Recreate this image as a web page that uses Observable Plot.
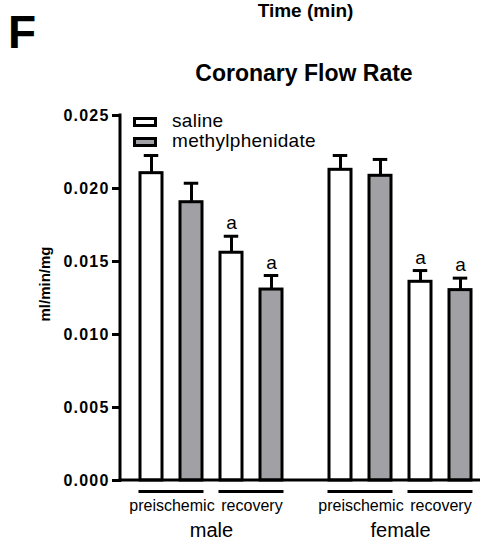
<!DOCTYPE html>
<html><head><meta charset="utf-8">
<script src="https://cdn.jsdelivr.net/npm/d3@7"></script>
<script src="https://cdn.jsdelivr.net/npm/@observablehq/plot@0.6"></script>
<style>
body{margin:0;background:#fff;font-family:"Liberation Sans",Arial,sans-serif;}
#wrap{position:relative;width:480px;height:540px;overflow:hidden;background:#fff;}
.abs{position:absolute;white-space:nowrap;line-height:1;color:#000;}
#chart svg{display:block;}
</style></head><body>
<div id="wrap">
  <div style="height:100px"></div>
  <div id="chart"></div>
</div>
<script>
// ---- data ----
const panelLetter = "F";
const topLabel = "Time (min)";
const title = "Coronary Flow Rate";
const yLabel = "ml/min/mg";
const sexes = ["male", "female"];
const phases = ["preischemic", "recovery"];
const treatments = ["saline", "methylphenidate"];
const treatmentFills = ["#ffffff", "#a1a1a5"];
// order: male pre saline, male pre mph, male rec saline, male rec mph, female ...
const means = [0.02105, 0.01906, 0.01560, 0.01308, 0.02128, 0.02087, 0.01361, 0.01304];
const sems  = [0.00121, 0.00130, 0.00113, 0.00096, 0.00098, 0.00112, 0.00077, 0.00082];
const letters = ["", "", "a", "a", "", "", "a", "a"];
const yTicks = [0, 0.005, 0.010, 0.015, 0.020, 0.025];

// ---- build table ----
const rows = [];
let idx = 0;
for (const sex of sexes) for (const phase of phases) for (const t of treatments) {
  rows.push({sex, phase, treatment: t, key: phase + " " + t,
             mean: means[idx], top: means[idx] + sems[idx], letter: letters[idx]});
  idx++;
}
const keys = phases.flatMap(p => treatments.map(t => p + " " + t));
const pairs = sexes.flatMap(sex => phases.map(phase => ({sex, phase,
  k1: phase + " " + treatments[0], k2: phase + " " + treatments[1]})));

const plot = Plot.plot({
  width: 480, height: 440,
  marginLeft: 120, marginRight: 0, marginTop: 15, marginBottom: 60,
  style: {fontFamily: "'Liberation Sans', Arial, sans-serif", background: "white", color: "black"},
  fx: {domain: sexes, paddingInner: 0.102, paddingOuter: 0, axis: null, label: null},
  x: {domain: keys, paddingInner: 0.45, paddingOuter: 0.3056, align: 0.67, axis: null, label: null},
  y: {domain: [0, 0.025], label: null},
  color: {domain: treatments, range: treatmentFills},
  marks: [
    Plot.axisY({ticks: yTicks, tickSize: 9, tickPadding: 3, strokeWidth: 3, fontSize: 16,
                fontWeight: "bold", tickFormat: d3.format(".3f"), label: null}),
    Plot.barY(rows, {fx: "sex", x: "key", y: "mean", fill: "treatment", stroke: "black", strokeWidth: 3}),
    Plot.ruleX(rows, {fx: "sex", x: "key", y1: "mean", y2: "top", stroke: "black", strokeWidth: 3}),
    Plot.tickY(rows, {fx: "sex", x: "key", y: "top", stroke: "black", strokeWidth: 3, insetLeft: 3.75, insetRight: 3.75}),
    Plot.text(rows.filter(d => d.letter), {fx: "sex", x: "key", y: "top", text: "letter",
              lineAnchor: "bottom", dy: -7, fontSize: 19, fill: "black"}),
    Plot.ruleY(pairs, {fx: "sex", x1: "k1", x2: "k2", y: 0, dy: 11, stroke: "black", strokeWidth: 3,
              insetLeft: -1.5, insetRight: -1.5}),
    Plot.text(pairs, {fx: "sex", x: "k1", y: 0, text: "phase", dx: 20.45, dy: 30,
              lineAnchor: "bottom", fontSize: 16, fill: "black"}),
    Plot.text(sexes, {fx: d => d, text: d => d, frameAnchor: "bottom", dx: 5, dy: 56,
              lineAnchor: "bottom", fontSize: 20, fill: "black"})
  ]
});

// axis line and continuous baseline across both groups
const ys = plot.scale("y");
const svg = d3.select(plot);
svg.selectAll('g[aria-label="y-axis tick label"] text')
  .style("letter-spacing", "1.2px").style("font-size", "16px").style("font-weight", "bold");
svg.append("line").attr("x1", 120).attr("x2", 120)
  .attr("y1", ys.apply(0) + 1.5).attr("y2", ys.apply(0.025) - 1.5)
  .attr("stroke", "black").attr("stroke-width", 3);
svg.append("line").attr("x1", 118.5).attr("x2", 480)
  .attr("y1", ys.apply(0)).attr("y2", ys.apply(0))
  .attr("stroke", "black").attr("stroke-width", 3);
document.getElementById("chart").appendChild(plot);

// ---- header texts, legend, y label (page coordinates) ----
const wrap = document.getElementById("wrap");
function addText(txt, css) {
  const d = document.createElement("div");
  d.className = "abs";
  d.textContent = txt;
  Object.assign(d.style, css);
  wrap.appendChild(d);
  return d;
}
addText(panelLetter, {left: "8px", top: "9px", fontSize: "46px", fontWeight: "bold"});
addText(topLabel, {left: "305.5px", top: "0.5px", fontSize: "19px", fontWeight: "bold", transform: "translateX(-50%)"});
addText(title, {left: "304px", top: "61.5px", fontSize: "23px", fontWeight: "bold", transform: "translateX(-50%)"});
addText(yLabel, {left: "43.5px", top: "284px", fontSize: "15px", fontWeight: "bold",
                 transform: "translate(-50%,-50%) rotate(-90deg)"});
treatments.forEach((t, k) => {
  const sw = document.createElement("div");
  Object.assign(sw.style, {position: "absolute", left: "133px", top: (117 + k * 19.6) + "px",
    width: "24px", height: "10px", boxSizing: "border-box", border: "3px solid black",
    background: treatmentFills[k]});
  wrap.appendChild(sw);
  addText(t, {left: "172px", top: (111.3 + k * 19.4) + "px", fontSize: "19px", letterSpacing: "0.3px"});
});
</script>
</body></html>
